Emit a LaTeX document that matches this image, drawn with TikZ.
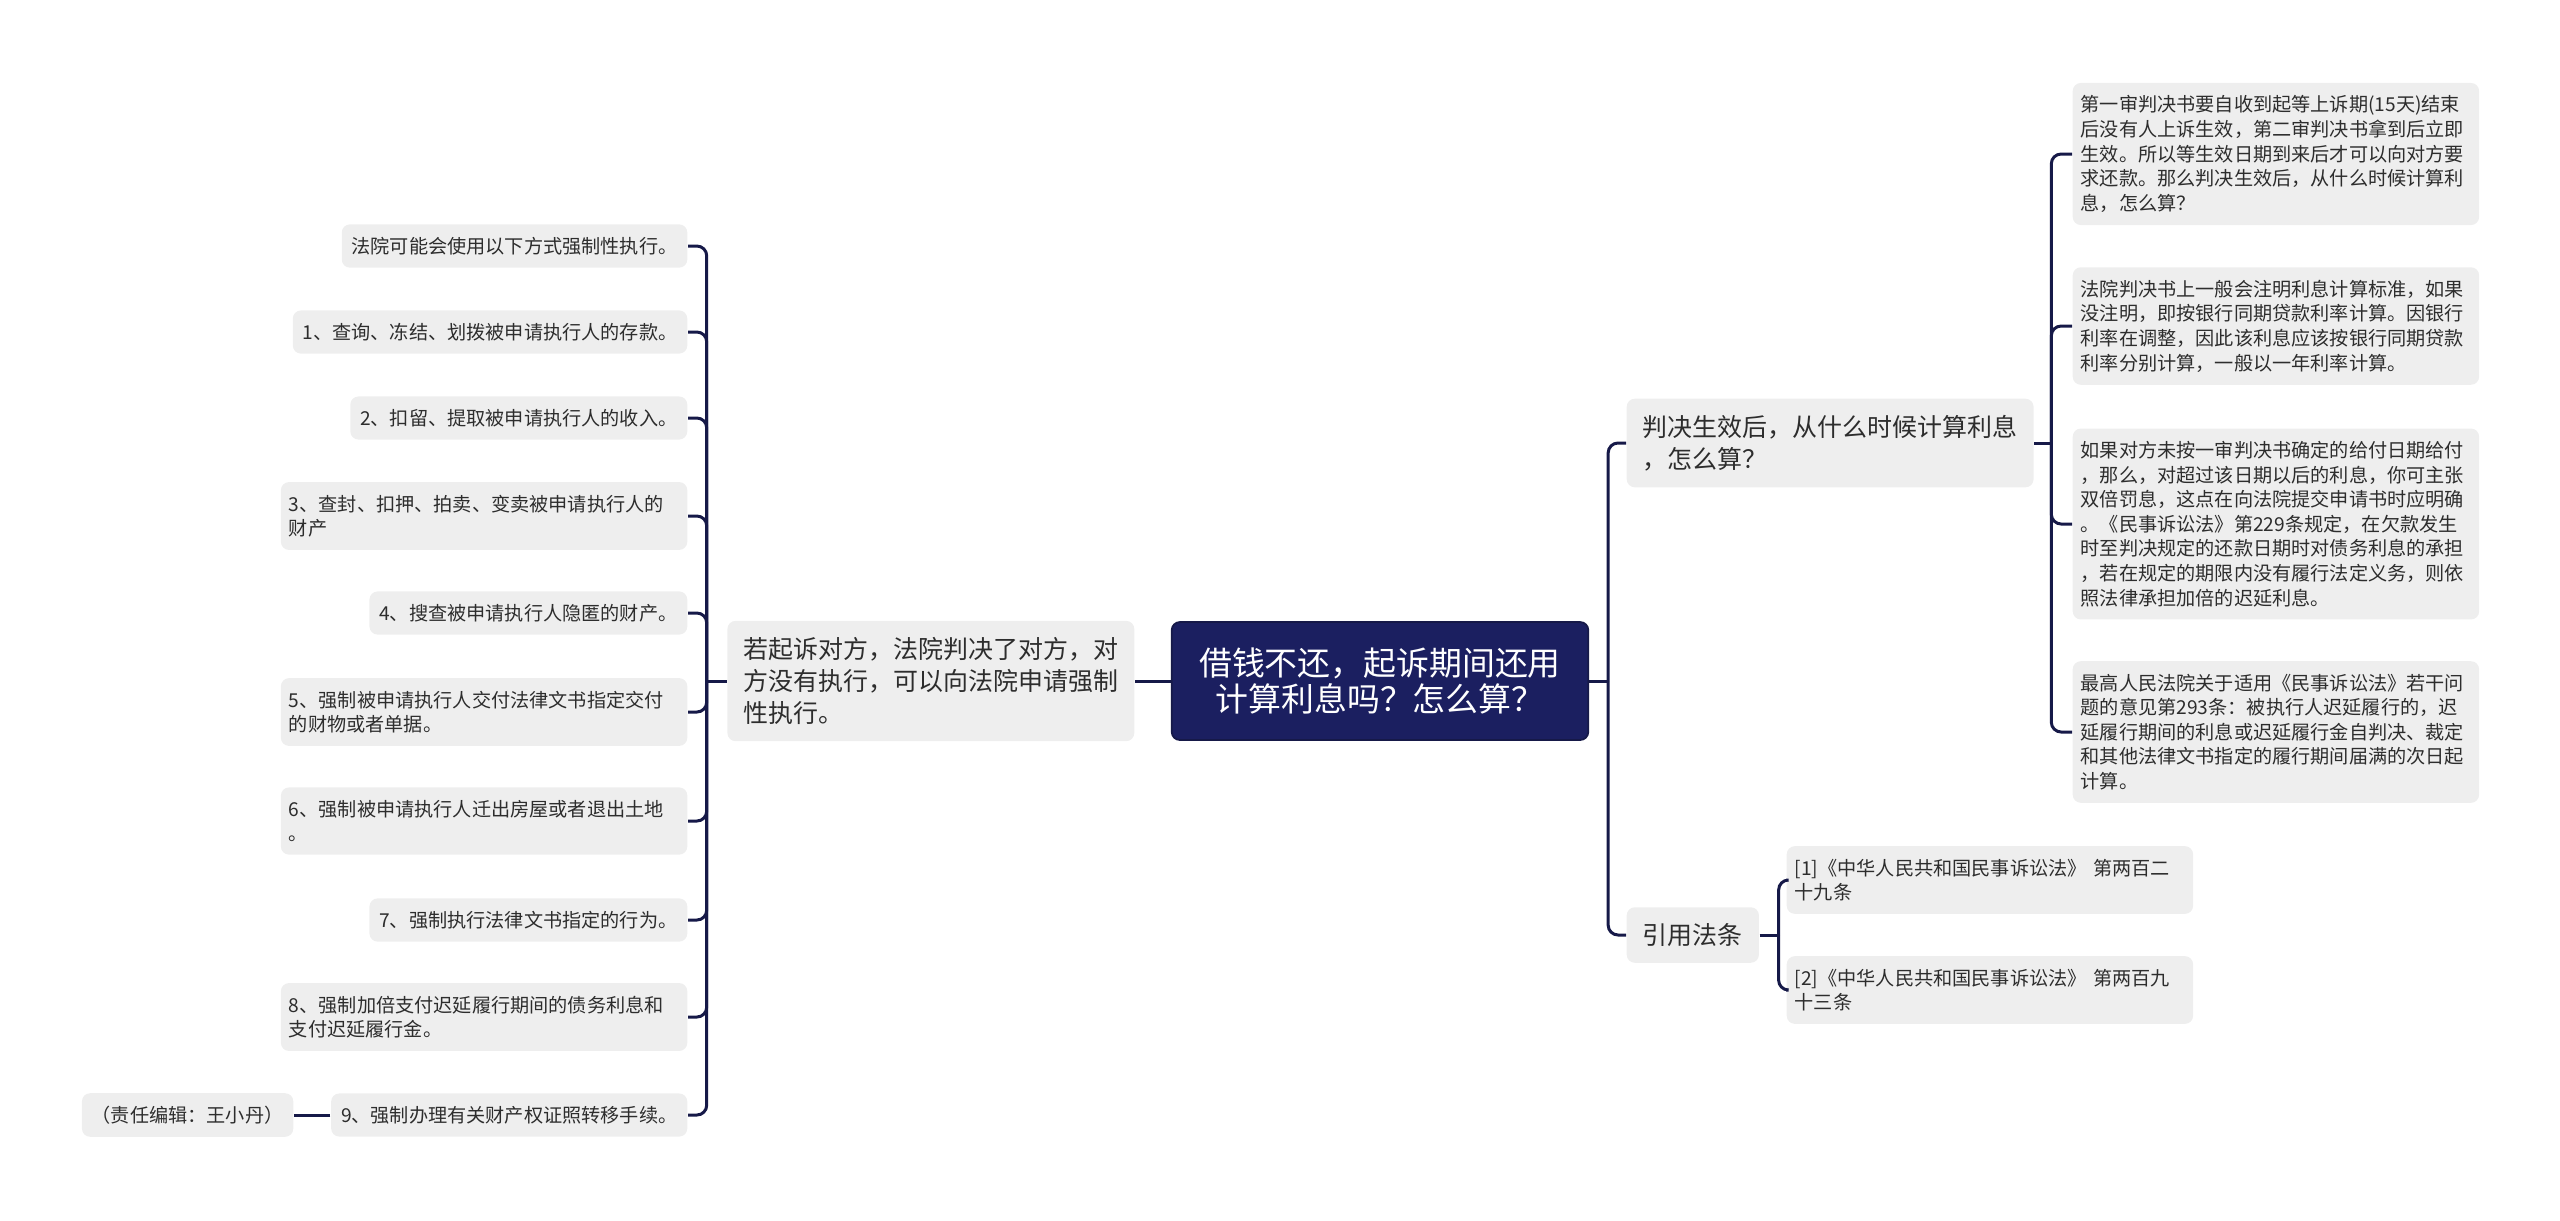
\documentclass[tikz,border=0pt]{standalone}
\usepackage{fontspec}
\usepackage{tikz}
\usetikzlibrary{positioning,calc}
\newfontfamily\cjk{Noto Sans CJK SC}
\definecolor{TreeNavy}{RGB}{27,31,96}
\definecolor{LinkNavy}{RGB}{22,25,72}
\definecolor{BoxGray}{RGB}{238,238,238}
\definecolor{InkGray}{RGB}{45,45,45}

\begin{document}
\begin{tikzpicture}[x=0.01cm, y=-0.01cm,
    rootbox/.style={draw=LinkNavy, line width=0.5pt, fill=TreeNavy, text=white,
      rounded corners=2.3pt, align=center, inner xsep=7.8pt, inner ysep=7.2pt,
      font=\cjk\fontsize{9.35pt}{10.5pt}\selectfont},
    topicbox/.style={fill=BoxGray, text=InkGray, rounded corners=2.3pt, align=left,
      inner xsep=4.6pt, inner ysep=4.6pt,
      font=\cjk\fontsize{7.1pt}{9.2pt}\selectfont},
    leafbox/.style={fill=BoxGray, text=InkGray, rounded corners=2.3pt, align=left,
      inner xsep=2.8pt, inner ysep=3.6pt,
      font=\cjk\fontsize{5.45pt}{7pt}\selectfont},
    widebox/.style={leafbox, inner xsep=2.3pt, text width=3.9cm},
    link/.style={draw=LinkNavy, line width=0.85pt, rounded corners=2.8pt}]
  \useasboundingbox (0,0) rectangle (2560,1220);

  % centre
  \node[rootbox] (root) at (1380,681) {借钱不还，起诉期间还用\\计算利息吗？怎么算？};

  % left branch
  \node[topicbox, anchor=east] (force) at (1135,681)
    {若起诉对方，法院判决了对方，对\\方没有执行，可以向法院申请强制\\性执行。};
  \node[leafbox, anchor=east] (way0) at (688,246) {法院可能会使用以下方式强制性执行。};
  \node[leafbox, anchor=east] (way1) at (688,332) {1、查询、冻结、划拨被申请执行人的存款。};
  \node[leafbox, anchor=east] (way2) at (688,418) {2、扣留、提取被申请执行人的收入。};
  \node[widebox, anchor=east] (way3) at (688,516) {3、查封、扣押、拍卖、变卖被申请执行人的\\财产};
  \node[leafbox, anchor=east] (way4) at (688,613) {4、搜查被申请执行人隐匿的财产。};
  \node[widebox, anchor=east] (way5) at (688,712) {5、强制被申请执行人交付法律文书指定交付\\的财物或者单据。};
  \node[widebox, anchor=east] (way6) at (688,821) {6、强制被申请执行人迁出房屋或者退出土地\\。};
  \node[leafbox, anchor=east] (way7) at (688,920) {7、强制执行法律文书指定的行为。};
  \node[widebox, anchor=east] (way8) at (688,1017) {8、强制加倍支付迟延履行期间的债务利息和\\支付迟延履行金。};
  \node[leafbox, anchor=east] (way9) at (688,1115) {9、强制办理有关财产权证照转移手续。};
  \node[leafbox, anchor=east] (editor) at (294,1115) {（责任编辑：王小丹）};

  % right branches
  \node[topicbox, anchor=west] (when) at (1626,443) {判决生效后，从什么时候计算利息\\，怎么算？};
  \node[topicbox, anchor=west] (cite) at (1626,935) {引用法条};

  \node[widebox, anchor=west] (rule1) at (2072,154)
    {第一审判决书要自收到起等上诉期(15天)结束\\后没有人上诉生效，第二审判决书拿到后立即\\生效。所以等生效日期到来后才可以向对方要\\求还款。那么判决生效后，从什么时候计算利\\息，怎么算？};
  \node[widebox, anchor=west] (rule2) at (2072,326)
    {法院判决书上一般会注明利息计算标准，如果\\没注明，即按银行同期贷款利率计算。因银行\\利率在调整，因此该利息应该按银行同期贷款\\利率分别计算，一般以一年利率计算。};
  \node[widebox, anchor=west] (rule3) at (2072,524)
    {如果对方未按一审判决书确定的给付日期给付\\，那么，对超过该日期以后的利息，你可主张\\双倍罚息，这点在向法院提交申请书时应明确\\。《民事诉讼法》第229条规定，在欠款发生\\时至判决规定的还款日期时对债务利息的承担\\，若在规定的期限内没有履行法定义务，则依\\照法律承担加倍的迟延利息。};
  \node[widebox, anchor=west] (rule4) at (2072,732)
    {最高人民法院关于适用《民事诉讼法》若干问\\题的意见第293条：被执行人迟延履行的，迟\\延履行期间的利息或迟延履行金自判决、裁定\\和其他法律文书指定的履行期间届满的次日起\\计算。};
  \node[widebox, anchor=west] (law1) at (1786,880) {[1]《中华人民共和国民事诉讼法》 第两百二\\十九条};
  \node[widebox, anchor=west] (law2) at (1786,990) {[2]《中华人民共和国民事诉讼法》 第两百九\\十三条};

  % junctions
  \coordinate (lj) at ($(force.west)+(-20,0)$);
  \coordinate (rj) at ($(root.east)+(19,0)$);
  \coordinate (wj) at ($(when.east)+(17,0)$);
  \coordinate (cj) at ($(cite.east)+(19,0)$);

  \draw[link] (root.west) -- (force.east);
  \draw[link] (force.west) -- (lj);
  \foreach \w in {way0,way1,way2,way3,way4,way5,way6,way7,way8,way9}
    \draw[link] (lj) |- (\w.east);
  \draw[link] (way9.west) -- (editor.east);

  \draw[link] (root.east) -- (rj);
  \draw[link] (rj) |- (when.west);
  \draw[link] (rj) |- (cite.west);
  \draw[link] (when.east) -- (wj);
  \foreach \r in {rule1,rule2,rule3,rule4}
    \draw[link] (wj) |- (\r.west);
  \draw[link] (cite.east) -- (cj);
  \draw[link] (cj) |- (law1.west);
  \draw[link] (cj) |- (law2.west);
\end{tikzpicture}
\end{document}
